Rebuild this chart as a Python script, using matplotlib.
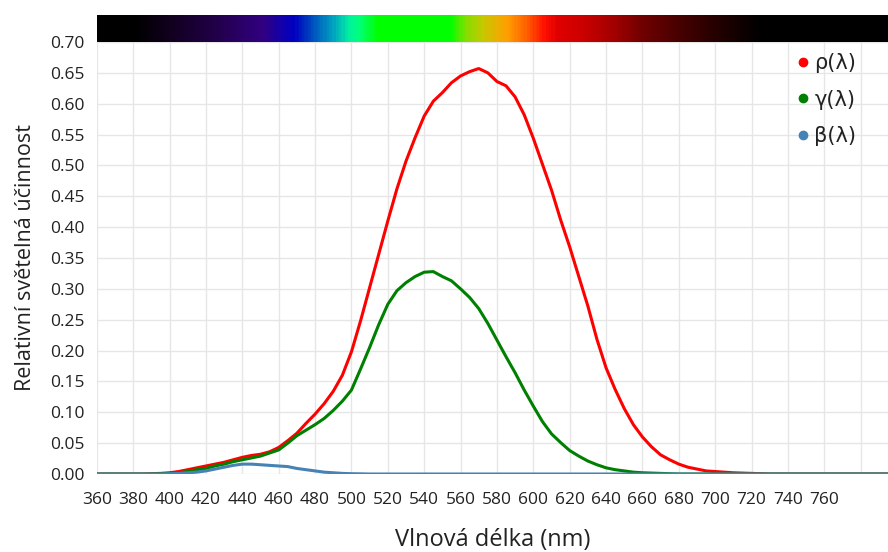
import matplotlib.pyplot as plt
import numpy as np
from matplotlib.colors import LinearSegmentedColormap
from matplotlib.lines import Line2D

plt.rcParams['font.family'] = ['Open Sans', 'DejaVu Sans']

# wavelengths (nm), 5 nm steps
wavelength = list(range(360, 835, 5))

rho = [0, 0, 0, 0, 0, 0, 0.0005, 0.001, 0.002, 0.004,
       0.007, 0.010, 0.013, 0.016, 0.019, 0.023, 0.027, 0.030, 0.032, 0.036,
       0.043, 0.054, 0.066, 0.082, 0.097, 0.114, 0.134, 0.160, 0.198, 0.248,
       0.302, 0.356, 0.410, 0.462, 0.507, 0.545, 0.580, 0.604, 0.618, 0.634,
       0.645, 0.652, 0.657, 0.650, 0.636, 0.629, 0.611, 0.582, 0.544, 0.502,
       0.460, 0.412, 0.368, 0.320, 0.272, 0.218, 0.172, 0.137, 0.106, 0.080,
       0.060, 0.044, 0.031, 0.023, 0.016, 0.011, 0.008, 0.005, 0.004, 0.003,
       0.002, 0.0015, 0.001, 0.0005, 0, 0, 0, 0, 0, 0,
       0, 0, 0, 0, 0, 0, 0, 0, 0, 0,
       0, 0, 0, 0, 0]

gamma = [0, 0, 0, 0, 0, 0, 0, 0.0005, 0.001, 0.002,
         0.004, 0.007, 0.009, 0.013, 0.016, 0.020, 0.023, 0.026, 0.029, 0.034,
         0.039, 0.050, 0.062, 0.071, 0.080, 0.090, 0.103, 0.118, 0.136, 0.170,
         0.205, 0.242, 0.275, 0.297, 0.310, 0.320, 0.327, 0.328, 0.320, 0.313,
         0.300, 0.286, 0.268, 0.244, 0.217, 0.190, 0.164, 0.136, 0.110, 0.085,
         0.065, 0.051, 0.038, 0.029, 0.021, 0.015, 0.010, 0.007, 0.005, 0.003,
         0.002, 0.0015, 0.001, 0.0005, 0, 0, 0, 0, 0, 0,
         0, 0, 0, 0, 0, 0, 0, 0, 0, 0,
         0, 0, 0, 0, 0, 0, 0, 0, 0, 0,
         0, 0, 0, 0, 0]

beta = [0, 0, 0, 0, 0, 0, 0, 0, 0.0005, 0.001,
        0.002, 0.003, 0.005, 0.008, 0.011, 0.014, 0.016, 0.016, 0.015, 0.014,
        0.013, 0.012, 0.009, 0.007, 0.005, 0.003, 0.002, 0.001, 0.0005, 0.0003,
        0, 0, 0, 0, 0, 0, 0, 0, 0, 0,
        0, 0, 0, 0, 0, 0, 0, 0, 0, 0,
        0, 0, 0, 0, 0, 0, 0, 0, 0, 0,
        0, 0, 0, 0, 0, 0, 0, 0, 0, 0,
        0, 0, 0, 0, 0, 0, 0, 0, 0, 0,
        0, 0, 0, 0, 0, 0, 0, 0, 0, 0,
        0, 0, 0, 0, 0]

labels = ['ρ(λ)', 'γ(λ)', 'β(λ)']
colors = ['#ff0000', '#008000', '#4682b4']

x_min, x_max = 360, 795

# spectrum bar colour stops (nm, colour)
spectrum_stops = [(360, '#000000'), (380, '#000000'), (400, '#120020'),
                  (425, '#22004a'), (450, '#320080'), (462, '#1000b0'),
                  (468, '#0000c0'), (480, '#0060c0'), (490, '#00a8c0'),
                  (498, '#00f0a0'), (503, '#00ff80'), (514, '#00ff00'),
                  (554, '#00ff00'), (562, '#80e000'), (572, '#c8c800'),
                  (585, '#ffa000'), (596, '#ff6000'), (606, '#ff1000'),
                  (613, '#e00000'), (625, '#d00000'), (645, '#a00000'),
                  (660, '#700000'), (680, '#480000'), (700, '#260000'),
                  (725, '#000000'), (795, '#000000')]

fig = plt.figure(figsize=(8.88, 5.52), dpi=100)
ax = fig.add_axes([0.109, 0.1413, 0.891, 0.7826])
bar_ax = fig.add_axes([0.109, 0.9239, 0.891, 0.049])

cmap = LinearSegmentedColormap.from_list(
    'spectrum', [((w - x_min) / (x_max - x_min), c) for w, c in spectrum_stops])
bar_ax.imshow(np.linspace(0, 1, 600).reshape(1, -1), aspect='auto', cmap=cmap,
              extent=[x_min, x_max, 0, 1])
bar_ax.set_axis_off()

for series, color in zip([rho, gamma, beta], colors):
    ax.plot(wavelength, series, color=color, linewidth=2.2,
            solid_capstyle='round', solid_joinstyle='round')

ax.set_xlim(x_min, x_max)
ax.set_ylim(0, 0.70)
yticks = np.arange(0, 0.701, 0.05)
ax.set_yticks(yticks)
ax.set_yticklabels([f'{v:.2f}' for v in yticks])
ax.set_xticks(range(360, 800, 20))
ax.set_xticklabels([str(v) if v <= 760 else '' for v in range(360, 800, 20)])
ax.grid(True, color='#e6e6e6', linewidth=1)
ax.set_axisbelow(True)
for s in ax.spines.values():
    s.set_visible(False)
ax.tick_params(length=0, labelsize=12.5, colors='#222222')
ax.tick_params(axis='x', pad=13)
ax.tick_params(axis='y', pad=9)

ax.set_xlabel('Vlnová délka (nm)', fontsize=17, color='#222222', labelpad=14)
ax.set_ylabel('Relativní světelná účinnost', fontsize=15.5, color='#222222', labelpad=10)

handles = [Line2D([], [], marker='o', linestyle='', color=c, markersize=6) for c in colors]
ax.legend(handles, labels, loc='upper left', bbox_to_anchor=(0.862, 1.018),
          frameon=False, handlelength=0.5, handletextpad=0.3,
          labelspacing=0.8, labelcolor='#222222',
          prop={'family': ['DejaVu Sans'], 'size': 15})

fig.savefig('out.png', dpi=100)
